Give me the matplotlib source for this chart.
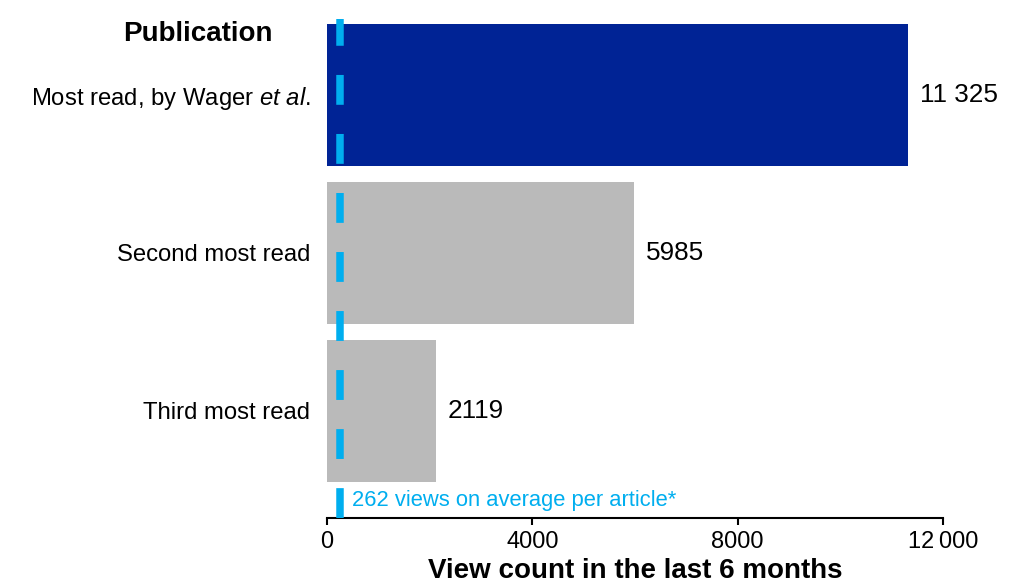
import numpy as np
import matplotlib.pyplot as plt

plt.rcParams['font.family'] = ['Liberation Sans', 'DejaVu Sans']
plt.rcParams['mathtext.fontset'] = 'custom'
plt.rcParams['mathtext.rm'] = 'Liberation Sans'
plt.rcParams['mathtext.it'] = 'Liberation Sans:italic'
plt.rcParams['lines.scale_dashes'] = False

# data
publications = ['Most read, by Wager $\\it{et\\ al.}$', 'Second most read', 'Third most read']
views = [11325, 5985, 2119]
value_labels = ['11 325', '5985', '2119']
average_views = 262
xticks = [0, 4000, 8000, 12000]
xtick_labels = ['0', '4000', '8000', '12\u2009000']

bar_colors = ['#002395', '#BABABA', '#BABABA']
line_color = '#00AEEF'

fig = plt.figure(figsize=(10.24, 5.85), dpi=100)
ax = fig.add_axes([327/1024, 1-518/585, 616/1024, 499/585])

ypos = np.arange(len(views))
ax.barh(ypos, views, height=0.9, color=bar_colors, zorder=1)

ax.set_ylim(2.68, -0.48)
ax.set_xlim(0, 12000)

# average line
ax.axvline(average_views, color=line_color, lw=5.4, dashes=(21.5, 21),
           dash_capstyle='butt', zorder=3)
ax.text(average_views + 230, 2.57, '262 views on average per article*',
        color=line_color, fontsize=15.8, va='center', ha='left')

for y, v, lab in zip(ypos, views, value_labels):
    ax.text(v + 230, y, lab, va='center', ha='left', fontsize=18.8)

ax.set_yticks(ypos)
ax.set_yticklabels(publications, fontsize=17.2)
ax.tick_params(axis='y', length=0, pad=12)
ax.set_xticks(xticks)
ax.set_xticklabels(xtick_labels, fontsize=17)
ax.tick_params(axis='x', length=5, width=1.5, pad=4)

for s in ['top', 'right', 'left']:
    ax.spines[s].set_visible(False)
ax.spines['bottom'].set_linewidth(1.5)
ax.spines['bottom'].set_bounds(0, 12000)

ax.set_xlabel('View count in the last 6 months', fontsize=20, fontweight='bold',
              labelpad=4)
fig.text(198/1024, 1-34/585, 'Publication', fontsize=20, fontweight='bold',
         ha='center', va='center')

fig.savefig('out.png', dpi=100)
